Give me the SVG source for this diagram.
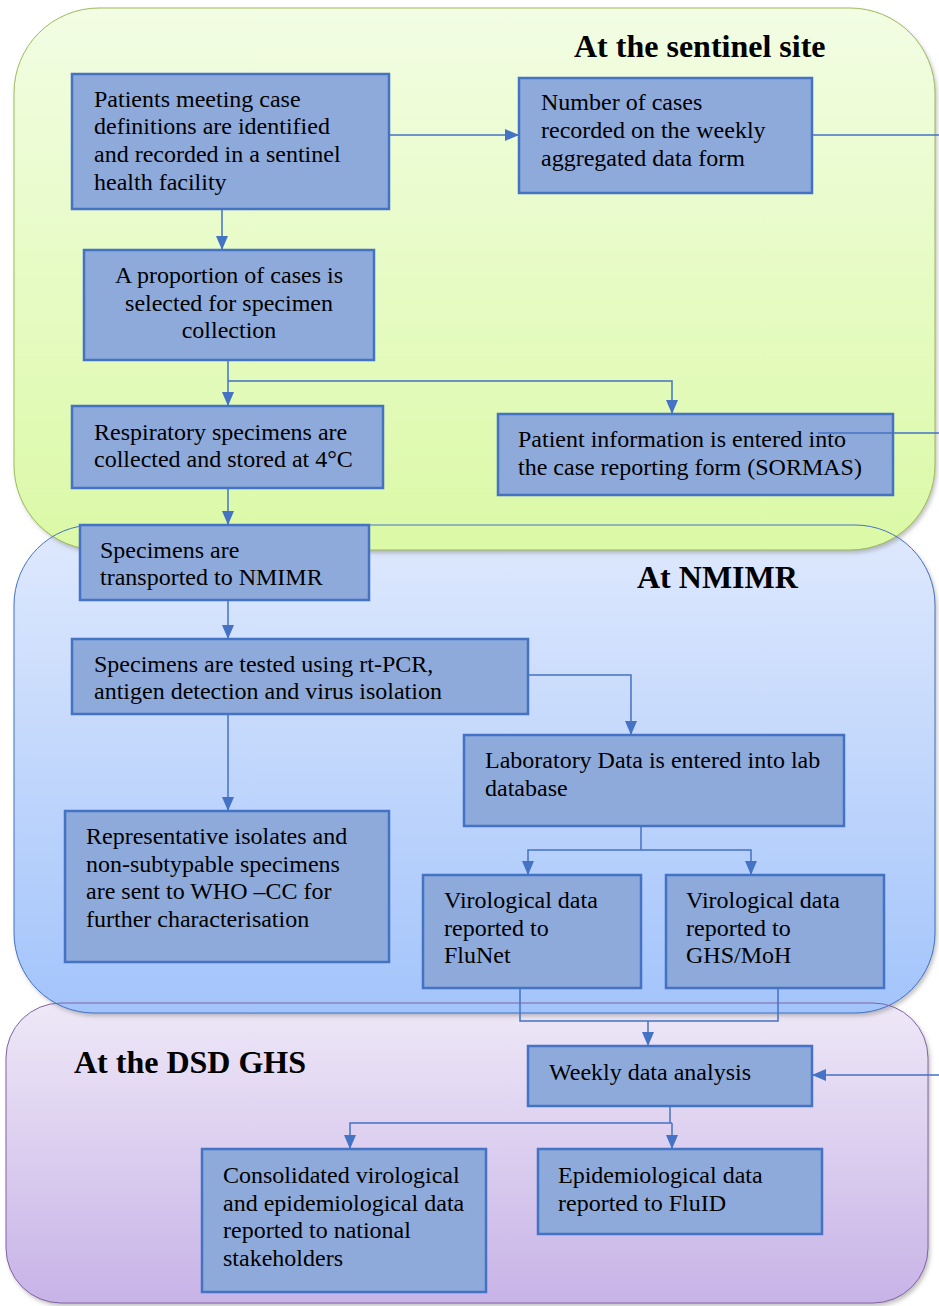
<svg xmlns="http://www.w3.org/2000/svg" width="939" height="1306" viewBox="0 0 939 1306">
<defs>
<linearGradient id="gGreen" x1="0" y1="0" x2="0" y2="1"><stop offset="0" stop-color="#f2fde3"/><stop offset="1" stop-color="#dbf9a6"/></linearGradient>
<linearGradient id="gBlue" x1="0" y1="0" x2="0" y2="1"><stop offset="0" stop-color="#dfe9fd"/><stop offset="1" stop-color="#a3c4fb"/></linearGradient>
<linearGradient id="gPurple" x1="0" y1="0" x2="0" y2="1"><stop offset="0" stop-color="#eee8f7"/><stop offset="1" stop-color="#c8b3e7"/></linearGradient>
<filter id="sh" x="-5%" y="-5%" width="110%" height="110%"><feDropShadow dx="2" dy="3" stdDeviation="2" flood-color="#808080" flood-opacity="0.5"/></filter>
<marker id="ah" viewBox="0 0 14 12" refX="14" refY="6" markerWidth="14" markerHeight="12" markerUnits="userSpaceOnUse" orient="auto"><path d="M0,0 L14,6 L0,12 Z" fill="#4472c4"/></marker>
<style>
.box{fill:#8eaadb;stroke:#4472c4;stroke-width:2.5}
.t{font-family:"Liberation Serif","Times New Roman",serif;font-size:24px;fill:#000}
.title{font-family:"Liberation Serif","Times New Roman",serif;font-size:32px;font-weight:bold;fill:#000}
.c{fill:none;stroke:#4472c4;stroke-width:1.5}
.a{marker-end:url(#ah)}
</style>
</defs>

<g id="regions">
<rect x="6" y="1003" width="922" height="300" rx="55" ry="55" fill="url(#gPurple)" filter="url(#sh)"/>
<rect x="14" y="525" width="921" height="488" rx="80" ry="80" fill="url(#gBlue)" filter="url(#sh)"/>
<rect x="14" y="8" width="921" height="542" rx="85" ry="85" fill="url(#gGreen)" filter="url(#sh)"/>
<rect x="14" y="8" width="921" height="542" rx="85" ry="85" fill="none" stroke="#9bbb59" stroke-width="1"/>
<rect x="14" y="525" width="921" height="488" rx="80" ry="80" fill="none" stroke="#4472c4" stroke-width="1"/>
<rect x="6" y="1003" width="922" height="300" rx="55" ry="55" fill="none" stroke="#8064a2" stroke-width="1"/>
<text class="title" x="574" y="57">At the sentinel site</text>
<text class="title" x="637" y="588">At NMIMR</text>
<text class="title" x="74" y="1073">At the DSD GHS</text>
</g>

<g id="connectors">
<path class="c a" d="M389,135 H519"/>
<path class="c" d="M812,135 H939"/>
<path class="c a" d="M222,209 V250"/>
<path class="c a" d="M228,360 V406"/>
<path class="c a" d="M228,381 H672 V414"/>
<path class="c" d="M818,433 H939"/>
<path class="c a" d="M228,488 V525"/>
<path class="c a" d="M228,600 V639"/>
<path class="c a" d="M228,714 V811"/>
<path class="c a" d="M528,675 H631 V735"/>
<path class="c" d="M641,826 V850"/>
<path class="c a" d="M641,850 H528 V875"/>
<path class="c a" d="M641,850 H751 V875"/>
<path class="c" d="M520,988 V1021 H778 V988"/>
<path class="c a" d="M648,1021 V1046"/>
<path class="c a" d="M939,1075 H812"/>
<path class="c" d="M670,1106 V1123"/>
<path class="c a" d="M672,1123 H350 V1149"/>
<path class="c a" d="M672,1123 V1149"/>
</g>

<g id="n1"><rect class="box" x="72" y="74" width="317" height="135"/>
<text class="t" x="94" y="107">Patients meeting case</text><text class="t" x="94" y="134">definitions are identified</text><text class="t" x="94" y="162">and recorded in a sentinel</text><text class="t" x="94" y="190">health facility</text></g>

<g id="n2"><rect class="box" x="519" y="78" width="293" height="115"/>
<text class="t" x="541" y="110">Number of cases</text><text class="t" x="541" y="138">recorded on the weekly</text><text class="t" x="541" y="166">aggregated data form</text></g>

<g id="n3"><rect class="box" x="84" y="250" width="290" height="110"/>
<text class="t" x="229" y="283" text-anchor="middle">A proportion of cases is</text><text class="t" x="229" y="311" text-anchor="middle">selected for specimen</text><text class="t" x="229" y="338" text-anchor="middle">collection</text></g>

<g id="n4"><rect class="box" x="72" y="406" width="311" height="82"/>
<text class="t" x="94" y="440">Respiratory specimens are</text><text class="t" x="94" y="467">collected and stored at 4°C</text></g>

<g id="n5"><rect class="box" x="498" y="414" width="395" height="81"/>
<text class="t" x="518" y="447">Patient information is entered into</text><text class="t" x="518" y="475">the case reporting form (SORMAS)</text></g>
<path class="c" d="M818,433 H893"/>

<g id="n6"><rect class="box" x="80" y="525" width="289" height="75"/>
<text class="t" x="100" y="558">Specimens are</text><text class="t" x="100" y="585">transported to NMIMR</text></g>

<g id="n7"><rect class="box" x="72" y="639" width="456" height="75"/>
<text class="t" x="94" y="672">Specimens are tested using rt-PCR,</text><text class="t" x="94" y="699">antigen detection and virus isolation</text></g>

<g id="n8"><rect class="box" x="464" y="735" width="380" height="91"/>
<text class="t" x="485" y="768">Laboratory Data is entered into lab</text><text class="t" x="485" y="796">database</text></g>

<g id="n9"><rect class="box" x="65" y="811" width="324" height="151"/>
<text class="t" x="86" y="844">Representative isolates and</text><text class="t" x="86" y="872">non-subtypable specimens</text><text class="t" x="86" y="899">are sent to WHO –CC for</text><text class="t" x="86" y="927">further characterisation</text></g>

<g id="n10"><rect class="box" x="423" y="875" width="218" height="113"/>
<text class="t" x="444" y="908">Virological data</text><text class="t" x="444" y="936">reported to</text><text class="t" x="444" y="963">FluNet</text></g>

<g id="n11"><rect class="box" x="666" y="875" width="218" height="113"/>
<text class="t" x="686" y="908">Virological data</text><text class="t" x="686" y="936">reported to</text><text class="t" x="686" y="963">GHS/MoH</text></g>

<g id="n12"><rect class="box" x="528" y="1046" width="284" height="60"/>
<text class="t" x="549" y="1080">Weekly data analysis</text></g>

<g id="n13"><rect class="box" x="202" y="1149" width="284" height="143"/>
<text class="t" x="223" y="1183">Consolidated virological</text><text class="t" x="223" y="1211">and epidemiological data</text><text class="t" x="223" y="1238">reported to national</text><text class="t" x="223" y="1266">stakeholders</text></g>

<g id="n14"><rect class="box" x="538" y="1149" width="284" height="85"/>
<text class="t" x="558" y="1183">Epidemiological data</text><text class="t" x="558" y="1211">reported to FluID</text></g>
</svg>
